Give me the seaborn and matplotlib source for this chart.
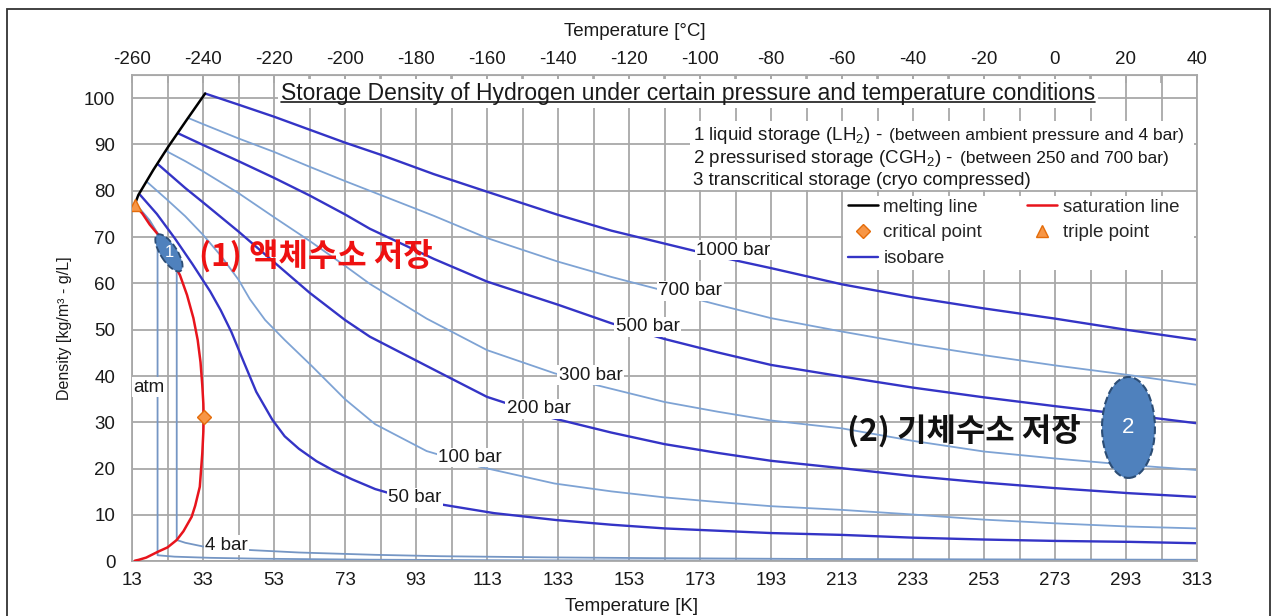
import matplotlib
matplotlib.use("Agg")
import matplotlib.pyplot as plt
import matplotlib.patches as mpatches
import matplotlib.transforms as mtransforms
from matplotlib.lines import Line2D
import seaborn as sns

# ---------------- data ----------------
melt_T = [13.9, 14.8, 19.0, 23.2, 28.4, 33.6]
melt_rho = [77.3, 79.1, 84.5, 89.5, 95.3, 101.0]

sat_T = [13.8, 16.0, 18.0, 20.4, 23.0, 26.5, 28.5, 30.3, 31.5, 32.3, 32.8, 33.1, 33.19,
         33.1, 32.8, 32.1, 30.8, 29.8, 27.5, 25.6, 23.0, 20.4, 17.0, 14.8, 13.8]
sat_rho = [77.0, 75.0, 72.7, 70.5, 66.8, 61.8, 57.5, 52.5, 47.8, 43.0, 38.0, 34.0, 31.2,
           28.0, 23.3, 16.1, 12.0, 9.6, 6.5, 4.6, 3.0, 2.1, 0.8, 0.3, 0.13]

triple_point = (13.8, 77.0)
critical_point = (33.19, 31.2)

iso_1000_T = [33.6, 43, 53, 63, 73, 83, 98, 113, 133, 148, 163, 178, 193, 213, 233, 253, 273, 293, 313]
iso_1000_rho = [101.0, 98.6, 96.0, 93.2, 90.4, 87.8, 83.6, 79.8, 74.8, 71.4, 68.6, 65.8, 63.3,
                59.8, 57.0, 54.6, 52.4, 50.0, 47.8]

iso_700_T = [28.9, 33, 43, 53, 63, 73, 80, 98, 113, 133, 148, 163, 178, 193, 213, 233, 253, 273, 294, 313]
iso_700_rho = [95.7, 94.4, 91.3, 88.4, 85.2, 82.1, 80.0, 74.6, 69.8, 64.7, 61.4, 58.4, 55.4,
               52.5, 49.6, 46.9, 44.5, 42.3, 40.2, 38.1]

iso_500_T = [26, 33, 43, 53, 63, 73, 80, 98, 113, 133, 148, 163, 178, 193, 213, 233, 253, 273, 294, 313]
iso_500_rho = [92.4, 89.9, 86.4, 82.8, 79.0, 74.9, 71.8, 65.3, 60.4, 55.4, 51.4, 48.0, 45.1,
               42.4, 39.9, 37.5, 35.4, 33.5, 31.6, 29.8]

iso_300_T = [22.6, 28, 33, 43, 53, 63, 73, 80, 96, 113, 132, 143, 163, 178, 193, 213, 233, 253, 273, 294, 313]
iso_300_rho = [88.6, 86.4, 84.2, 79.5, 74.3, 69.2, 63.8, 59.9, 52.4, 45.6, 40.6, 38.2, 34.4,
               32.3, 30.4, 28.7, 26.0, 23.7, 22.2, 20.8, 19.7]

iso_200_T = [20.2, 25, 28, 33, 43, 53, 63, 73, 80, 99, 113, 131, 148, 163, 178, 193, 213, 233, 253, 273, 294, 313]
iso_200_rho = [85.8, 82.6, 80.6, 77.5, 71.2, 64.6, 58.0, 52.1, 48.5, 41.0, 35.5, 31.0, 27.8,
               25.3, 23.4, 21.7, 20.1, 18.4, 17.0, 15.8, 14.7, 13.9]

iso_100_T = [17.1, 23, 28, 33, 38, 43, 46.2, 50.5, 56, 63.6, 73, 81.5, 96, 111, 132, 148, 163,
             178, 193, 213, 233, 253, 273, 294, 313]
iso_100_rho = [82.0, 78.0, 74.5, 70.5, 66.0, 60.8, 56.6, 52.1, 47.8, 42.2, 35.0, 29.6, 23.8,
               20.4, 16.8, 15.1, 13.8, 12.8, 11.9, 11.1, 10.1, 9.0, 8.2, 7.5, 7.1]

iso_50_T = [15.3, 20, 25, 30, 35, 38, 41, 44.5, 48, 52.5, 56, 60, 65, 70, 75, 81.5, 90, 100.7,
            115, 132.6, 148, 163, 178, 193, 213, 233, 253, 273, 294, 313]
iso_50_rho = [79.1, 75.0, 69.8, 64.2, 58.3, 54.2, 49.5, 43.0, 36.6, 30.6, 27.0, 24.3, 21.6, 19.5,
              17.7, 15.6, 13.7, 12.2, 10.4, 8.9, 7.9, 7.1, 6.6, 6.1, 5.7, 5.1, 4.7, 4.4, 4.2, 3.9]

iso_4_T = [14.0, 18.0, 22.0, 25.6, 25.6, 28, 33, 40, 47, 60, 81.5, 100, 130, 160, 200, 250, 313]
iso_4_rho = [77.2, 73.6, 68.6, 63.0, 4.6, 4.0, 3.2, 2.7, 2.4, 1.9, 1.4, 1.1, 0.85, 0.68, 0.52, 0.42, 0.33]

iso_atm_T = [13.9, 17.0, 20.2, 20.2, 25, 35, 50, 80, 120, 200, 313]
iso_atm_rho = [77.0, 74.3, 70.8, 1.3, 1.0, 0.75, 0.55, 0.35, 0.22, 0.13, 0.08]

isobar_names = ["1000 bar", "700 bar", "500 bar", "300 bar", "200 bar", "100 bar", "50 bar", "4 bar", "atm"]

x_ticks_K = list(range(13, 314, 20))
x_ticks_C = list(range(-260, 41, 20))
y_ticks = list(range(0, 101, 10))

title = "Storage Density of Hydrogen under certain pressure and temperature conditions"
block_main = ["1 liquid storage (LH$_2$) -", "2 pressurised storage (CGH$_2$) -",
              "3 transcritical storage (cryo compressed)"]
block_small = ["(between ambient pressure and 4 bar)", "(between 250 and 700 bar)", ""]

# ---------------- styling ----------------
sns.set_style("white")
plt.rcParams['font.family'] = ['Liberation Sans', 'Noto Sans CJK KR', 'DejaVu Sans']
plt.rcParams['mathtext.fontset'] = 'custom'
plt.rcParams['mathtext.rm'] = 'Liberation Sans'
plt.rcParams['mathtext.it'] = 'Liberation Sans:italic'
plt.rcParams['mathtext.bf'] = 'Liberation Sans:bold'
plt.rcParams['axes.unicode_minus'] = False

DARK = '#3434c6'
LIGHT = '#7ea3d4'
LOWP = '#7596c4'
RED = '#e8141c'
ORANGE = '#f79646'
ORANGE_E = '#e46c0a'
GRID = '#a8a8a8'
TXT = '#1a1a1a'
FS = 13.5

fig = plt.figure(figsize=(12.75, 6.16), dpi=100)
ax = fig.add_axes([132 / 1275, 1 - 561.3 / 616, 1065 / 1275, (561.3 - 75) / 616])
ax.set_xlim(13, 313)
ax.set_ylim(0, 105)

# grid
ax.set_xticks(x_ticks_K)
ax.set_xticks([t + 10 for t in x_ticks_K[:-1]], minor=True)
ax.set_yticks(y_ticks)
ax.grid(True, which='both', axis='x', color=GRID, lw=1.3, zorder=0)
ax.grid(True, which='major', axis='y', color=GRID, lw=1.3, zorder=0)
ax.set_axisbelow(True)
for s in ax.spines.values():
    s.set_color(GRID)
    s.set_linewidth(1.3)
ax.tick_params(axis='x', which='both', length=0, pad=8, labelsize=FS, colors=TXT)
ax.tick_params(axis='y', length=0, pad=12, labelsize=FS, colors=TXT)
ax.set_xlabel("Temperature [K]", fontsize=FS, color=TXT, labelpad=6)
ax.set_ylabel("Density [kg/m³ - g/L]", fontsize=11.5, color=TXT)
ax.xaxis.set_label_coords((632 - 132) / 1065, -0.075)
ax.yaxis.set_label_coords((72 - 132) / 1065, (561.3 - 328) / 486.3)

secax = ax.secondary_xaxis('top', functions=(lambda k: k - 273, lambda c: c + 273))
secax.set_xticks(x_ticks_C)
secax.set_xticks([c + 10 for c in x_ticks_C[:-1]], minor=True)
secax.tick_params(axis='x', which='both', direction='in', length=6, color=GRID, width=1.2,
                  pad=5, labelsize=FS, labelcolor=TXT)
secax.spines['top'].set_color(GRID)
fig.text(635 / 1275, 1 - 31 / 616, "Temperature [°C]", ha='center', va='center',
         fontsize=FS, color=TXT)

# curves
series = [
    (iso_atm_T, iso_atm_rho, LOWP, 1.3),
    (iso_4_T, iso_4_rho, LOWP, 1.3),
    (iso_50_T, iso_50_rho, DARK, 1.7),
    (iso_100_T, iso_100_rho, LIGHT, 1.3),
    (iso_200_T, iso_200_rho, DARK, 1.7),
    (iso_300_T, iso_300_rho, LIGHT, 1.3),
    (iso_500_T, iso_500_rho, DARK, 1.7),
    (iso_700_T, iso_700_rho, LIGHT, 1.3),
    (iso_1000_T, iso_1000_rho, DARK, 1.7),
]
for T, rho, c, lw in series:
    sns.lineplot(x=T, y=rho, ax=ax, color=c, linewidth=lw, sort=False, estimator=None,
                 legend=False, zorder=2)
sns.lineplot(x=melt_T, y=melt_rho, ax=ax, color='black', linewidth=1.8, sort=False,
             estimator=None, legend=False, zorder=3)
sns.lineplot(x=sat_T, y=sat_rho, ax=ax, color=RED, linewidth=1.8, sort=False,
             estimator=None, legend=False, zorder=3)
ax.plot(*triple_point, marker='^', ms=9, color=ORANGE, mec=ORANGE_E, ls='none', zorder=4)
ax.plot(*critical_point, marker='D', ms=7, color=ORANGE, mec=ORANGE_E, ls='none', zorder=4)

# isobar labels
label_pos = {'1000 bar': (182.4, 67.2), '700 bar': (170.3, 58.4), '500 bar': (158.2, 50.6),
             '300 bar': (142.2, 40.2), '200 bar': (127.5, 32.9), '100 bar': (108.2, 22.4),
             '50 bar': (92.6, 13.7), '4 bar': (39.6, 3.5)}
for name in isobar_names:
    if name in label_pos:
        x, y = label_pos[name]
        ax.text(x, y, name, ha='center', va='center', fontsize=FS, color=TXT, zorder=5,
                bbox=dict(fc='white', ec='none', pad=1.0))
ax.text(13.4, 37.6, 'atm', ha='left', va='center', fontsize=FS, color=TXT, zorder=5,
        bbox=dict(fc='white', ec='none', pad=1.0))

# white boxes behind text block and legend
ax.add_patch(mpatches.Rectangle((0.524, 0.7625), 0.997 - 0.524, 0.9054 - 0.7625,
                                transform=ax.transAxes, fc='white', ec='none', zorder=2.5))
ax.add_patch(mpatches.Rectangle((0.6676, 0.599), 0.997 - 0.6676, 0.7512 - 0.599,
                                transform=ax.transAxes, fc='white', ec='none', zorder=2.5))

# title
tt = ax.text(169.6, 99.6, title, ha='center', va='baseline', fontsize=16.5, color=TXT, zorder=6,
             bbox=dict(fc='white', ec='none', pad=2.0))

# bubbles
ell1 = mpatches.Ellipse((0, 0), 31, 12, angle=-57,
                        transform=mtransforms.Affine2D().scale(fig.dpi / 72.0)
                        + mtransforms.ScaledTranslation(23.4, 66.6, ax.transData),
                        fc='#4f81bd', ec='#2c4d75', ls='--', lw=1.3, zorder=6)
ax.add_patch(ell1)
ax.text(23.4, 66.6, '1', ha='center', va='center', color='white', fontsize=12, zorder=7)
ell2 = mpatches.Ellipse((293.7, 28.9), 14.9, 21.8, fc='#4f81bd', ec='#2c4d75', ls='--',
                        lw=1.5, zorder=6)
ax.add_patch(ell2)
ax.text(293.7, 28.9, '2', ha='center', va='center', color='white', fontsize=16, zorder=7)

# korean annotations
ax.text(64.8, 65.7, "(1) 액체수소 저장", ha='center', va='center', fontsize=23,
        fontweight='bold', color='#ee1111', family=['Noto Sans CJK KR'], zorder=6)
ax.text(247.4, 27.9, "(2) 기체수소 저장", ha='center', va='center', fontsize=23,
        fontweight='bold', color='#111111', family=['Noto Sans CJK KR'], zorder=6)

# legend
handles = [
    Line2D([], [], color='black', lw=1.8, label='melting line'),
    Line2D([], [], marker='D', ms=7, color=ORANGE, mec=ORANGE_E, ls='none', label='critical point'),
    Line2D([], [], color=DARK, lw=1.7, label='isobare'),
    Line2D([], [], color=RED, lw=1.8, label='saturation line'),
    Line2D([], [], marker='^', ms=8, color=ORANGE, mec=ORANGE_E, ls='none', label='triple point'),
]
ax.legend(handles=handles, ncol=2, loc='upper left', bbox_to_anchor=(0.672, 0.746),
          frameon=False, fontsize=FS, handlelength=1.6, handletextpad=0.3,
          columnspacing=2.4, labelspacing=0.46, borderpad=0, borderaxespad=0)

# figure border
fig.patches.append(mpatches.Rectangle((7 / 1275, -0.05), (1270 - 7) / 1275, 1.05 - 9 / 616,
                                      transform=fig.transFigure, fill=False, ec='#333333',
                                      lw=1.3, zorder=10))

# text block with mixed sizes, and title underline
fig.canvas.draw()
r = fig.canvas.get_renderer()
block_x = 171.0
block_y = [91.0, 86.0, 81.3]
for main, small, y in zip(block_main, block_small, block_y):
    t = ax.text(block_x, y, main, ha='left', va='baseline', fontsize=FS, color=TXT, zorder=6)
    if small:
        w = t.get_window_extent(renderer=r).width * 72.0 / fig.dpi + 4.5
        ax.annotate(small, xy=(block_x, y), xycoords='data', xytext=(w, 0),
                    textcoords='offset points', ha='left', va='baseline', fontsize=12.5,
                    color=TXT, zorder=6)

bb = tt.get_window_extent(renderer=r)
base_y = ax.transData.transform((169.6, 99.6))[1] - 2.0
x0, y0 = fig.transFigure.inverted().transform((bb.x0, base_y))
x1, _ = fig.transFigure.inverted().transform((bb.x1, base_y))
fig.lines.append(Line2D([x0, x1], [y0, y0], transform=fig.transFigure, color=TXT, lw=1.2, zorder=7))

fig.savefig("out.png", dpi=100)
